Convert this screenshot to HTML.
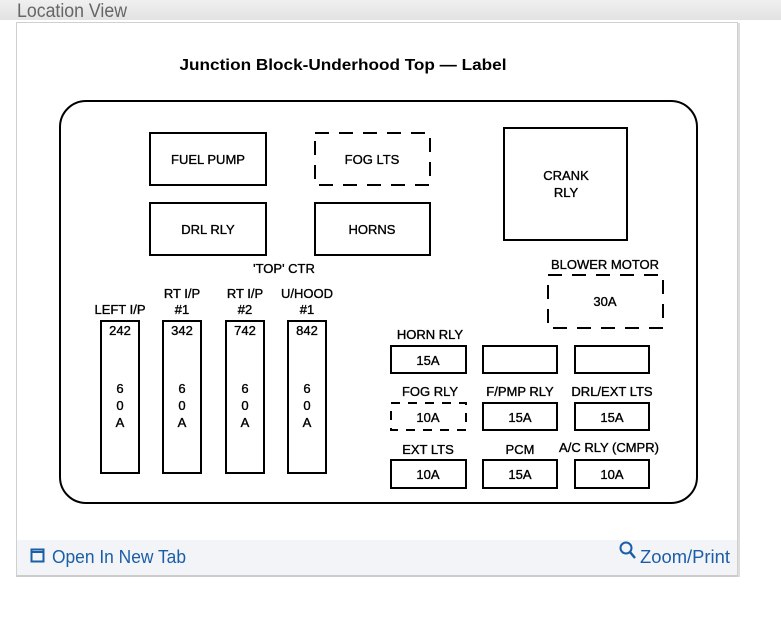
<!DOCTYPE html>
<html><head><style>
body{margin:0;width:781px;height:623px;background:#fff;overflow:hidden;font-family:"Liberation Sans",sans-serif;}
</style></head><body>
<svg width="781" height="623" xmlns="http://www.w3.org/2000/svg" style="position:absolute;left:0;top:0">
<defs><linearGradient id="g" x1="0" y1="0" x2="0" y2="1"><stop offset="0" stop-color="#f0f0f0"/><stop offset="1" stop-color="#e2e2e2"/></linearGradient></defs>
<rect x="0" y="0" width="781" height="20" fill="url(#g)"/>
<text x="17" y="17" font-size="19" fill="#666" textLength="110" lengthAdjust="spacingAndGlyphs">Location View</text>
<rect x="16.5" y="22.5" width="721" height="553" fill="#fff" stroke="#d0d0d0"/>
<rect x="17" y="540" width="720" height="35" fill="#f3f4f7"/>
<line x1="16" y1="576" x2="739" y2="576" stroke="#ccc" stroke-width="2"/>
<line x1="739" y1="23" x2="739" y2="577" stroke="#ddd" stroke-width="2"/>
<g fill="#1a5ea8">
<rect x="31.5" y="549.5" width="12" height="12" fill="none" stroke="#1a5ea8" stroke-width="2"/>
<line x1="31" y1="552" x2="44" y2="552" stroke="#1a5ea8" stroke-width="2"/>
<text x="52" y="563" font-size="18" textLength="134" lengthAdjust="spacingAndGlyphs">Open In New Tab</text>
<circle cx="626" cy="548" r="5.5" fill="none" stroke="#1a5ea8" stroke-width="2"/>
<line x1="630" y1="552" x2="635" y2="558" stroke="#1a5ea8" stroke-width="2.5"/>
<text x="640" y="563" font-size="18" textLength="90" lengthAdjust="spacingAndGlyphs">Zoom/Print</text>
</g>
<text x="343" y="70" font-size="16" font-weight="bold" text-anchor="middle" textLength="327" lengthAdjust="spacingAndGlyphs">Junction Block-Underhood Top — Label</text>
<rect x="60" y="101" width="637" height="402" rx="26" fill="none" stroke="#000" stroke-width="2"/>
<g fill="none" stroke="#000" stroke-width="2">
<rect x="150" y="133" width="116" height="52"/>
<rect x="150" y="203" width="116" height="52"/>
<rect x="315" y="203" width="115" height="52"/>
<rect x="504" y="128" width="123" height="112"/>
<rect x="315" y="133" width="115" height="52" stroke-dasharray="14,10"/>
<rect x="548" y="275" width="115" height="53" stroke-dasharray="14,10"/>
<rect x="101" y="321" width="38" height="152"/>
<rect x="163" y="321" width="38" height="152"/>
<rect x="226" y="321" width="38" height="152"/>
<rect x="288" y="321" width="38" height="152"/>
<rect x="391" y="346" width="75" height="27"/>
<rect x="483" y="346" width="74" height="27"/>
<rect x="575" y="346" width="74" height="27"/>
<rect x="391" y="403" width="75" height="27" stroke-dasharray="9,8"/>
<rect x="483" y="403" width="74" height="27"/>
<rect x="575" y="403" width="74" height="27"/>
<rect x="391" y="460" width="75" height="28"/>
<rect x="483" y="460" width="74" height="28"/>
<rect x="575" y="460" width="74" height="28"/>
</g>
<g font-size="13" text-anchor="middle" fill="#000" stroke="#000" stroke-width="0.35">
<text x="208" y="164">FUEL PUMP</text>
<text x="372" y="164">FOG LTS</text>
<text x="208" y="234">DRL RLY</text>
<text x="372" y="234">HORNS</text>
<text x="566" y="180">CRANK</text>
<text x="566" y="197">RLY</text>
<text x="284" y="273">'TOP'  CTR</text>
<text x="605" y="269">BLOWER MOTOR</text>
<text x="605" y="306">30A</text>
<text x="120" y="314">LEFT I/P</text>
<text x="182" y="298">RT I/P</text><text x="182" y="314">#1</text>
<text x="245" y="298">RT I/P</text><text x="245" y="314">#2</text>
<text x="307" y="298">U/HOOD</text><text x="307" y="314">#1</text>
<text x="120" y="335">242</text><text x="182" y="335">342</text><text x="245" y="335">742</text><text x="307" y="335">842</text>
<text x="120" y="393">6</text><text x="120" y="410">0</text><text x="120" y="427">A</text>
<text x="182" y="393">6</text><text x="182" y="410">0</text><text x="182" y="427">A</text>
<text x="245" y="393">6</text><text x="245" y="410">0</text><text x="245" y="427">A</text>
<text x="307" y="393">6</text><text x="307" y="410">0</text><text x="307" y="427">A</text>
<text x="430" y="339">HORN RLY</text>
<text x="428" y="365">15A</text>
<text x="430" y="396">FOG RLY</text>
<text x="428" y="422">10A</text>
<text x="520" y="396">F/PMP RLY</text>
<text x="520" y="422">15A</text>
<text x="612" y="396">DRL/EXT LTS</text>
<text x="612" y="422">15A</text>
<text x="428" y="454">EXT LTS</text>
<text x="428" y="479">10A</text>
<text x="520" y="454">PCM</text>
<text x="520" y="479">15A</text>
<text x="609" y="452">A/C RLY (CMPR)</text>
<text x="612" y="479">10A</text>
</g>
</svg>
</body></html>
